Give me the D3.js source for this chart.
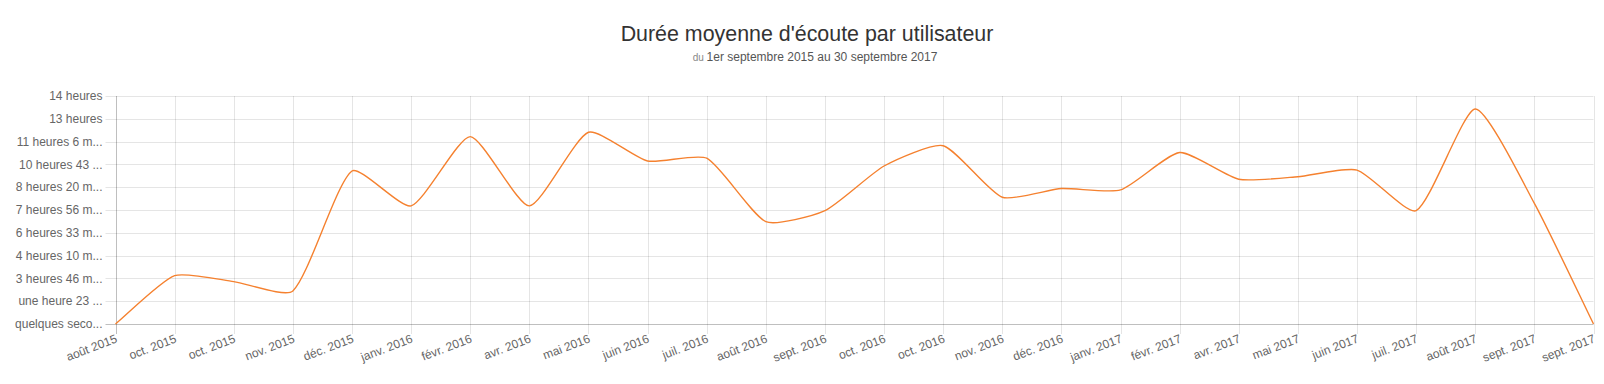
<!DOCTYPE html>
<html>
<head>
<meta charset="utf-8">
<script src="https://cdn.jsdelivr.net/npm/d3@7/dist/d3.min.js"></script>
<style>
  body { margin: 0; background: #fff; }
  svg { display: block; font-family: "Liberation Sans", Arial, sans-serif; }
</style>
</head>
<body>
<div class="chart"></div>
<script>
// tick labels of the y axis (one per grid step)
var yLabels = ["quelques seco...", "une heure 23 ...", "3 heures 46 m...", "4 heures 10 m...",
    "6 heures 33 m...", "7 heures 56 m...", "8 heures 20 m...", "10 heures 43 ...",
    "11 heures 6 m...", "13 heures", "14 heures"];

var months = ["août 2015", "oct. 2015", "oct. 2015", "nov. 2015", "déc. 2015", "janv. 2016",
    "févr. 2016", "avr. 2016", "mai 2016", "juin 2016", "juil. 2016", "août 2016",
    "sept. 2016", "oct. 2016", "oct. 2016", "nov. 2016", "déc. 2016", "janv. 2017",
    "févr. 2017", "avr. 2017", "mai 2017", "juin 2017", "juil. 2017", "août 2017",
    "sept. 2017", "sept. 2017"];

// values in y grid steps
var values = [0, 2.12, 1.86, 1.45, 6.71, 5.18, 8.22, 5.18, 8.41, 7.15, 7.27, 4.49,
    4.97, 6.93, 7.82, 5.56, 5.94, 5.88, 7.52, 6.35, 6.46, 6.75, 4.97, 9.43, 5.29, 0];

var width = 1604, height = 384;
var areaLeft = 115.5, areaRight = 1593.5, areaTop = 96, areaBottom = 324;

var svg = d3.select(".chart").append("svg")
    .attr("width", width)
    .attr("height", height);

var x = d3.scalePoint().domain(d3.range(months.length)).range([areaLeft, areaRight]);
var y = d3.scaleLinear().domain([0, yLabels.length - 1]).range([areaBottom, areaTop]);

// title
svg.append("text")
    .attr("x", 807).attr("y", 41)
    .attr("text-anchor", "middle")
    .attr("font-size", 21.4)
    .attr("fill", "#333")
    .text("Durée moyenne d'écoute par utilisateur");

var sub = svg.append("text")
    .attr("x", 815).attr("y", 61)
    .attr("text-anchor", "middle")
    .attr("fill", "#555");
sub.append("tspan").attr("font-size", 10).attr("fill", "#888").text("du ");
sub.append("tspan").attr("font-size", 12).text("1er septembre 2015 au 30 septembre 2017");

// horizontal grid + y labels
svg.selectAll(".hgrid")
    .data(d3.range(yLabels.length))
    .enter().append("line")
    .attr("class", "hgrid")
    .attr("x1", areaLeft - 10).attr("x2", areaRight)
    .attr("y1", function(d) { return Math.round(y(d)) + 0.5; })
    .attr("y2", function(d) { return Math.round(y(d)) + 0.5; })
    .attr("stroke", function(d) { return d == 0 ? "rgba(0,0,0,0.25)" : "rgba(0,0,0,0.1)"; });

svg.selectAll(".ylabel")
    .data(yLabels)
    .enter().append("text")
    .attr("class", "ylabel")
    .attr("x", areaLeft - 13)
    .attr("y", function(d, i) { return y(i); })
    .attr("dy", "0.35em")
    .attr("text-anchor", "end")
    .attr("font-size", 12)
    .attr("fill", "#666")
    .text(function(d) { return d; });

// vertical grid + x labels
svg.selectAll(".vgrid")
    .data(d3.range(months.length))
    .enter().append("line")
    .attr("class", "vgrid")
    .attr("x1", function(d) { return Math.round(x(d)) + 0.5; })
    .attr("x2", function(d) { return Math.round(x(d)) + 0.5; })
    .attr("y1", areaTop).attr("y2", areaBottom + 10)
    .attr("stroke", function(d) { return d == 0 ? "rgba(0,0,0,0.25)" : "rgba(0,0,0,0.1)"; });

svg.selectAll(".xlabel")
    .data(months)
    .enter().append("text")
    .attr("class", "xlabel")
    .attr("transform", function(d, i) { return "translate(" + (x(i) + 1) + "," + (areaBottom + 14) + ") rotate(-21)"; })
    .attr("dy", "0.35em")
    .attr("text-anchor", "end")
    .attr("font-size", 12)
    .attr("fill", "#666")
    .text(function(d) { return d; });

// spline like chart.js (control points kept inside the area)
function spline(pts, t) {
    var clampX = function(v) { return Math.max(areaLeft, Math.min(areaRight, v)); };
    var clampY = function(v) { return Math.max(areaTop, Math.min(areaBottom, v)); };
    var ctrl = pts.map(function(p, i) {
	var prev = pts[i - 1] || p, next = pts[i + 1] || p;
	var d01 = Math.hypot(p[0] - prev[0], p[1] - prev[1]);
	var d12 = Math.hypot(next[0] - p[0], next[1] - p[1]);
	var s01 = d01 / (d01 + d12) || 0, s12 = d12 / (d01 + d12) || 0;
	var dx = next[0] - prev[0], dy = next[1] - prev[1];
	return {
	    before: [clampX(p[0] - t * s01 * dx), clampY(p[1] - t * s01 * dy)],
	    after: [clampX(p[0] + t * s12 * dx), clampY(p[1] + t * s12 * dy)]
	};
    });
    var path = d3.path();
    path.moveTo(pts[0][0], pts[0][1]);
    for (var i = 1; i < pts.length; i++) {
	path.bezierCurveTo(ctrl[i - 1].after[0], ctrl[i - 1].after[1],
	    ctrl[i].before[0], ctrl[i].before[1], pts[i][0], pts[i][1]);
    }
    return path.toString();
}

var points = values.map(function(v, i) { return [x(i), y(v)]; });

svg.append("path")
    .attr("d", spline(points, 0.2))
    .attr("fill", "none")
    .attr("stroke", "#f5812f")
    .attr("stroke-width", 1.4);
</script>
</body>
</html>
